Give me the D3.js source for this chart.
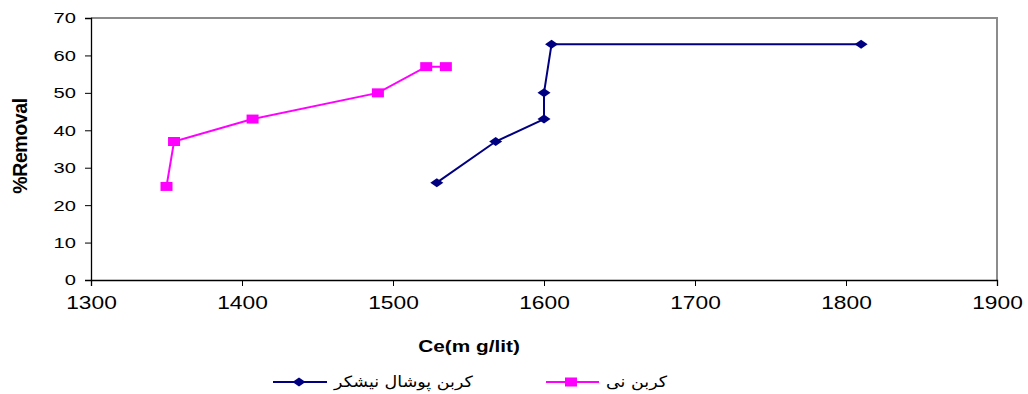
<!DOCTYPE html>
<html>
<head>
<meta charset="utf-8">
<script src="https://cdn.jsdelivr.net/npm/d3@7"></script>
<style>
  body { margin: 0; background: #fff; }
  svg { display: block; font-family: "Liberation Sans", Arial, sans-serif; }
</style>
</head>
<body>
<svg id="chart" width="1028" height="394"></svg>
<script>
// series
const bagasseCe = [1529, 1568, 1600, 1600, 1605, 1810];
const bagasseRemoval = [26, 37, 43, 50, 63, 63];
const reedCe = [1350, 1355, 1407, 1490, 1522, 1535];
const reedRemoval = [25, 37, 43, 50, 57, 57];

const seriesNames = ['کربن پوشال نیشکر', 'کربن نی'];
const xTicks = [1300, 1400, 1500, 1600, 1700, 1800, 1900];
const yTicks = [0, 10, 20, 30, 40, 50, 60, 70];

const NAVY = '#000080', MAGENTA = '#ff00ff';
const STRETCH = 1.3; // reference text is widened horizontally

const svg = d3.select('#chart');

const xScale = d3.scaleLinear().domain([1300, 1900]).range([91, 997]);
const yScale = d3.scaleLinear().domain([0, 70]).range([280, 18]);

// gray frame on top and right
svg.append('path')
  .attr('d', `M${xScale(1300)},${yScale(70)}H${xScale(1900)}V${yScale(0)}`)
  .attr('fill', 'none')
  .attr('stroke', '#8c8c8c')
  .attr('stroke-width', 2);

const xAxis = d3.axisBottom(xScale).tickValues(xTicks).tickFormat(d3.format('d')).tickSizeOuter(0).tickSize(6);
const yAxis = d3.axisLeft(yScale).tickValues(yTicks).tickSizeOuter(0).tickSize(6);

const xG = svg.append('g').attr('transform', `translate(0,${yScale(0)})`).call(xAxis);
const yG = svg.append('g').attr('transform', `translate(${xScale(1300)},0)`).call(yAxis);

[xG, yG].forEach(g => {
  g.select('.domain').attr('stroke', '#000').attr('stroke-width', 1.3);
  g.selectAll('.tick line').attr('stroke', '#000');
});

xG.selectAll('.tick text')
  .attr('y', 17)
  .attr('font-size', 17.5)
  .attr('fill', '#000')
  .attr('transform', `scale(${STRETCH},1)`);

yG.selectAll('.tick text')
  .attr('x', -15 / STRETCH)
  .attr('font-size', 15.5)
  .attr('fill', '#000')
  .attr('transform', `scale(${STRETCH},1)`);

// axis titles
svg.append('text')
  .attr('transform', `translate(469,352) scale(${STRETCH},1)`)
  .attr('text-anchor', 'middle')
  .attr('font-size', 16)
  .attr('font-weight', 'bold')
  .text('Ce(m g/lit)');

svg.append('text')
  .attr('transform', 'translate(27,146) rotate(-90) scale(1,1.05)')
  .attr('text-anchor', 'middle')
  .attr('font-size', 19.5)
  .attr('font-weight', 'bold')
  .attr('letter-spacing', -0.4)
  .text('%Removal');

const line = d3.line()
  .x(d => xScale(d[0]))
  .y(d => yScale(d[1]));

const bagasse = d3.zip(bagasseCe, bagasseRemoval);
const reed = d3.zip(reedCe, reedRemoval);

svg.append('path')
  .attr('d', line(reed))
  .attr('fill', 'none')
  .attr('stroke', MAGENTA)
  .attr('stroke-width', 2);

svg.append('path')
  .attr('d', line(bagasse))
  .attr('fill', 'none')
  .attr('stroke', NAVY)
  .attr('stroke-width', 2);

const diamond = 'M0,-4.5L6.5,0L0,4.5L-6.5,0Z';

svg.selectAll('path.bagasse').data(bagasse)
  .enter().append('path')
  .attr('class', 'bagasse')
  .attr('d', diamond)
  .attr('transform', d => `translate(${xScale(d[0])},${yScale(d[1])})`)
  .attr('fill', NAVY);

svg.selectAll('rect.reed').data(reed)
  .enter().append('rect')
  .attr('class', 'reed')
  .attr('x', d => xScale(d[0]) - 6)
  .attr('y', d => yScale(d[1]) - 4.5)
  .attr('width', 12)
  .attr('height', 9)
  .attr('fill', MAGENTA);

// legend
const legend = svg.append('g').attr('transform', 'translate(0,382)');

const l1 = legend.append('g');
l1.append('line').attr('x1', 273).attr('x2', 327).attr('stroke', NAVY).attr('stroke-width', 2);
l1.append('path').attr('d', diamond).attr('transform', 'translate(299,0)').attr('fill', NAVY);
l1.append('text').attr('transform', 'translate(334,5) scale(1.13,1)').attr('font-family', 'DejaVu Sans')
  .attr('font-size', 15.5).text(seriesNames[0]);

const l2 = legend.append('g');
l2.append('line').attr('x1', 546).attr('x2', 599).attr('stroke', MAGENTA).attr('stroke-width', 2);
l2.append('rect').attr('x', 565).attr('y', -4.5).attr('width', 12).attr('height', 9).attr('fill', MAGENTA);
l2.append('text').attr('transform', 'translate(606,5) scale(1.13,1)').attr('font-family', 'DejaVu Sans')
  .attr('font-size', 15.5).text(seriesNames[1]);
</script>
</body>
</html>
